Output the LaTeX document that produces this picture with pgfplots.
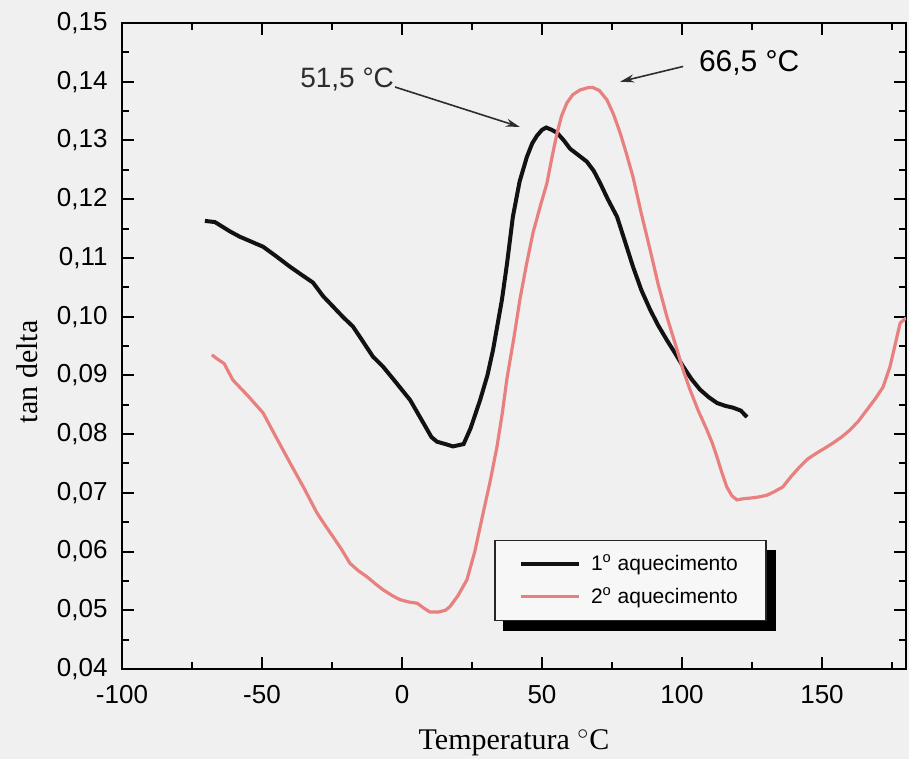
\documentclass[border=0pt]{standalone}
\usepackage{fontspec}
\setmainfont{Liberation Serif}
\newfontfamily\arial{Liberation Sans}
\usepackage{pgfplots}
\usepackage{pgfplotstable}
\pgfplotsset{compat=1.18}
\usetikzlibrary{arrows.meta}

\pgfdeclarelayer{back}
\pgfdeclarelayer{shade}
\pgfsetlayers{back,shade,main}

\definecolor{bg}{RGB}{240,240,240}
\definecolor{legbg}{RGB}{247,247,247}
\definecolor{pinkline}{RGB}{233,128,128}
\definecolor{curveblack}{RGB}{18,18,18}
\definecolor{annot}{RGB}{45,45,45}

% tan delta vs temperature, first heating
\pgfplotstableread{
T tan
-70.4 0.1163
-66.8 0.1161
-61.4 0.1145
-57.9 0.1136
-53.5 0.1127
-49.6 0.1119
-45.0 0.1103
-40.0 0.1085
-35.8 0.1071
-31.8 0.1058
-28.2 0.1035
-24.6 0.1017
-21.0 0.0999
-17.5 0.0983
-14.0 0.0958
-10.4 0.0932
-6.8 0.0915
-2.5 0.0890
2.9 0.0858
7.5 0.0820
10.5 0.0795
12.5 0.0787
15.5 0.0783
18.2 0.0779
22.0 0.0783
24.5 0.0810
27.9 0.0858
30.5 0.0900
32.5 0.0943
35.7 0.1029
37.5 0.1090
39.6 0.1170
42.0 0.1230
44.6 0.1272
46.5 0.1295
48.2 0.1308
50.0 0.1318
51.5 0.1322
53.5 0.1318
55.4 0.1313
57.8 0.1300
60.0 0.1286
63.0 0.1275
66.0 0.1264
68.5 0.1248
70.7 0.1228
73.5 0.1200
76.8 0.1170
79.5 0.1130
82.5 0.1085
85.5 0.1045
88.6 0.1012
91.5 0.0985
94.6 0.0960
97.5 0.0938
100.4 0.0915
103.5 0.0893
106.4 0.0876
109.5 0.0863
112.5 0.0853
115.5 0.0848
118.2 0.0845
121.0 0.0840
123.2 0.0829
}\firstheat

% second heating
\pgfplotstableread{
T tan
-67.9 0.0935
-66.0 0.0928
-63.5 0.0920
-60.4 0.0892
-55.0 0.0865
-49.6 0.0836
-45.0 0.0795
-40.0 0.0751
-35.0 0.0708
-30.4 0.0666
-27.5 0.0645
-24.6 0.0625
-21.5 0.0603
-18.6 0.0580
-15.5 0.0567
-12.5 0.0557
-9.5 0.0545
-6.8 0.0535
-3.5 0.0525
-0.7 0.0518
2.5 0.0514
5.4 0.0512
8.0 0.0503
10.0 0.0497
13.0 0.0497
15.5 0.0500
17.1 0.0506
20.0 0.0525
23.2 0.0552
26.0 0.0600
29.0 0.0666
31.5 0.0720
33.9 0.0778
35.8 0.0835
37.5 0.0895
40.0 0.0965
42.1 0.1029
44.5 0.1090
46.8 0.1143
49.5 0.1190
51.8 0.1228
53.5 0.1270
55.4 0.1313
57.0 0.1342
58.9 0.1364
61.0 0.1378
63.6 0.1386
66.5 0.1390
68.2 0.1390
70.5 0.1385
73.2 0.1369
75.5 0.1345
77.9 0.1313
80.0 0.1280
82.5 0.1238
85.5 0.1175
88.6 0.1114
91.5 0.1055
94.6 0.1000
97.5 0.0955
100.4 0.0909
102.9 0.0875
105.8 0.0840
108.9 0.0807
110.8 0.0785
112.5 0.0761
114.2 0.0735
116.0 0.0710
117.8 0.0695
119.6 0.0688
122.0 0.0690
124.3 0.0691
127.5 0.0693
130.4 0.0696
133.0 0.0702
136.0 0.0710
139.0 0.0728
142.0 0.0744
145.0 0.0758
148.2 0.0768
151.0 0.0776
154.0 0.0785
157.0 0.0795
160.0 0.0807
163.0 0.0822
166.0 0.0841
169.0 0.0860
171.8 0.0880
174.3 0.0915
176.0 0.0950
177.9 0.0989
180.0 0.0998
}\secondheat

\begin{document}
\begin{tikzpicture}
\begin{pgfonlayer}{back}
\fill[bg] (-61pt,-45pt) rectangle (393.5pt,334.5pt);
\end{pgfonlayer}
\begin{axis}[
  at={(0,0)}, anchor=south west,
  scale only axis, width=392pt, height=323pt,
  xmin=-100, xmax=180, ymin=0.04, ymax=0.15,
  xtick={-100,-50,0,50,100,150},
  minor xtick={-75,-25,25,75,125,175},
  ytick={0.04,0.05,0.06,0.07,0.08,0.09,0.10,0.11,0.12,0.13,0.14,0.15},
  minor ytick={0.045,0.055,0.065,0.075,0.085,0.095,0.105,0.115,0.125,0.135,0.145},
  tick align=inside,
  major tick length=6pt, minor tick length=3.5pt,
  every tick/.style={black, line width=1pt},
  axis line style={line width=1.3pt, black},
  /pgf/number format/assume math mode=true,
  tick label style={font=\arial\fontsize{13}{15}\selectfont},
  xticklabel style={inner sep=0pt, yshift=-8pt},
  yticklabel style={inner sep=0pt, xshift=-7pt,
    /pgf/number format/.cd, fixed, fixed zerofill, precision=2, use comma},
  scaled y ticks=false,
  xlabel={Temperatura ${}^{\circ}$C},
  ylabel={tan delta},
  label style={font=\fontsize{15}{17}\selectfont},
  xlabel style={at={(axis description cs:0.5,0)}, anchor=center, yshift=-37pt},
  ylabel style={at={(axis description cs:-0.1212,0.46)}, anchor=center},
  legend cell align=left,
  legend image code/.code={\draw[#1] (0pt,0pt) -- (29pt,0pt);},
  legend style={name=leg, at={(axis cs:33,0.062)}, anchor=north west,
    draw=black!85, line width=0.6pt, fill=legbg,
    font=\arial\fontsize{10.5}{12}\selectfont,
    inner xsep=12pt, inner ysep=5pt, row sep=3pt, column sep=3pt,
    nodes={inner sep=2pt}},
]
\addplot[curveblack, line width=2pt] table[x=T, y=tan] {\firstheat};
\addlegendentry{1\textsuperscript{o} aquecimento\hspace{4pt}}
\addplot[pinkline, line width=1.6pt] table[x=T, y=tan] {\secondheat};
\addlegendentry{2\textsuperscript{o} aquecimento\hspace{4pt}}

\node[font=\arial\fontsize{14}{16}\selectfont, text=annot, inner sep=0pt]
  at (axis cs:-19.6,0.1403) {51,5 °C};
\draw[annot, line width=0.8pt, -{Stealth[length=7pt, width=4pt]}]
  (axis cs:-2.5,0.1391) -- (axis cs:42.1,0.1323);
\node[font=\arial\fontsize{15}{17}\selectfont, inner sep=0pt]
  at (axis cs:124,0.1432) {66,5 °C};
\draw[annot, line width=0.8pt, -{Stealth[length=7pt, width=4pt]}]
  (axis cs:100.4,0.1426) -- (axis cs:77.9,0.1400);
\end{axis}
% solid shadow behind the legend box
\begin{pgfonlayer}{shade}
\fill[black] ([shift={(4.5pt,-5pt)}]leg.south west) rectangle ([shift={(4.5pt,-5pt)}]leg.north east);
\end{pgfonlayer}
\pgfresetboundingbox
\useasboundingbox (-61pt,-45pt) rectangle (393.5pt,334.5pt);
\end{tikzpicture}
\end{document}
